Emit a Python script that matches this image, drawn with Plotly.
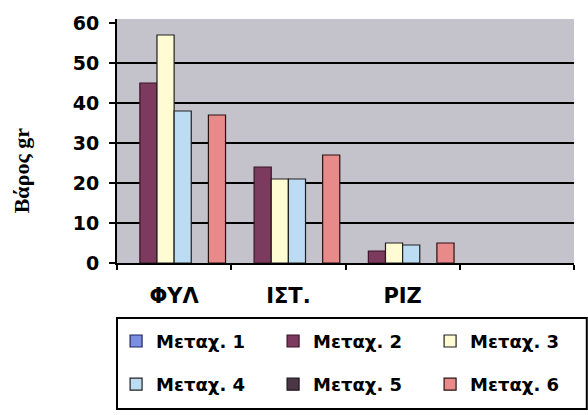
import plotly.graph_objects as go

# Plant parts and dry weight (gr) per treatment
categories = ["ΦΥΛ", "ΙΣΤ.", "ΡΙΖ"]
series_names = ["Μεταχ. 1", "Μεταχ. 2", "Μεταχ. 3", "Μεταχ. 4", "Μεταχ. 5", "Μεταχ. 6"]
metax_1 = [None, None, None]
metax_2 = [45, 24, 3]
metax_3 = [57, 21, 5]
metax_4 = [38, 21, 4.5]
metax_5 = [None, None, None]
metax_6 = [37, 27, 5]
y_ticks = [0, 10, 20, 30, 40, 50, 60]
grid_vals = [10, 20, 30, 40, 50]

series_values = [metax_1, metax_2, metax_3, metax_4, metax_5, metax_6]
fills = ["#7b8ee0", "#7b3a5e", "#fffbd2", "#bcdcf4", "#4a3645", "#e8898a"]
edges = ["#1c2460", "#3a1528", "#202020", "#202020", "#1e141b", "#2a1010"]
legend_ids = ["legend", "legend", "legend", "legend2", "legend2", "legend2"]

x_pos = list(range(len(categories)))

fig = go.Figure()
for name, vals, fc, ec, lg in zip(series_names, series_values, fills, edges, legend_ids):
    fig.add_trace(go.Bar(
        x=x_pos, y=vals, name=name, legend=lg,
        marker=dict(color=fc, line=dict(color=ec, width=1.2)),
    ))

tick_font = dict(family="DejaVu Sans", size=19, color="black", weight="bold")
legend_common = dict(
    orientation="h", x=-0.002, xanchor="left", yanchor="middle",
    entrywidth=112, entrywidthmode="pixels",
    font=dict(family="DejaVu Sans", size=18, color="black", weight="bold"),
    bgcolor="rgba(0,0,0,0)", borderwidth=0, traceorder="normal",
)

fig.update_layout(
    width=588, height=415,
    margin=dict(l=117, r=14, t=14, b=152),
    paper_bgcolor="white", plot_bgcolor="#c4c3cc",
    barmode="group", bargap=0.1, bargroupgap=0,
    showlegend=True,
    legend=dict(y=-0.321, **legend_common),
    legend2=dict(y=-0.498, **legend_common),
    xaxis=dict(
        range=[-0.5, 3.5], tickvals=x_pos, ticktext=categories,
        ticks="", showgrid=False, zeroline=False,
        showline=True, linecolor="black", linewidth=2,
        tickfont=dict(family="DejaVu Sans", size=21, color="black", weight="bold"),
        ticklabelstandoff=13,
        minor=dict(tick0=0.5, dtick=1, ticks="outside", ticklen=5,
                   tickcolor="black", tickwidth=1.5, showgrid=False),
    ),
    yaxis=dict(
        range=[0, 61], tickvals=y_ticks, ticks="outside", ticklen=6,
        tickcolor="black", tickwidth=1.5, showgrid=False, zeroline=False,
        showline=True, linecolor="black", linewidth=2,
        tickfont=tick_font, ticklabelstandoff=6,
        minor=dict(tickvals=grid_vals, ticks="", showgrid=True,
                   gridcolor="black", gridwidth=1.5),
    ),
    shapes=[dict(type="rect", xref="paper", yref="paper",
                 x0=0, x1=1.028, y0=-0.598, y1=-0.225,
                 line=dict(color="black", width=2), fillcolor="rgba(0,0,0,0)")],
    annotations=[dict(text="Βάρος gr", xref="paper", yref="paper",
                      x=-0.21, y=0.38, xanchor="center", yanchor="middle",
                      textangle=-90, showarrow=False,
                      font=dict(family="Liberation Serif", size=22, color="black",
                                weight="bold"))],
)

fig.write_html("out.html")
